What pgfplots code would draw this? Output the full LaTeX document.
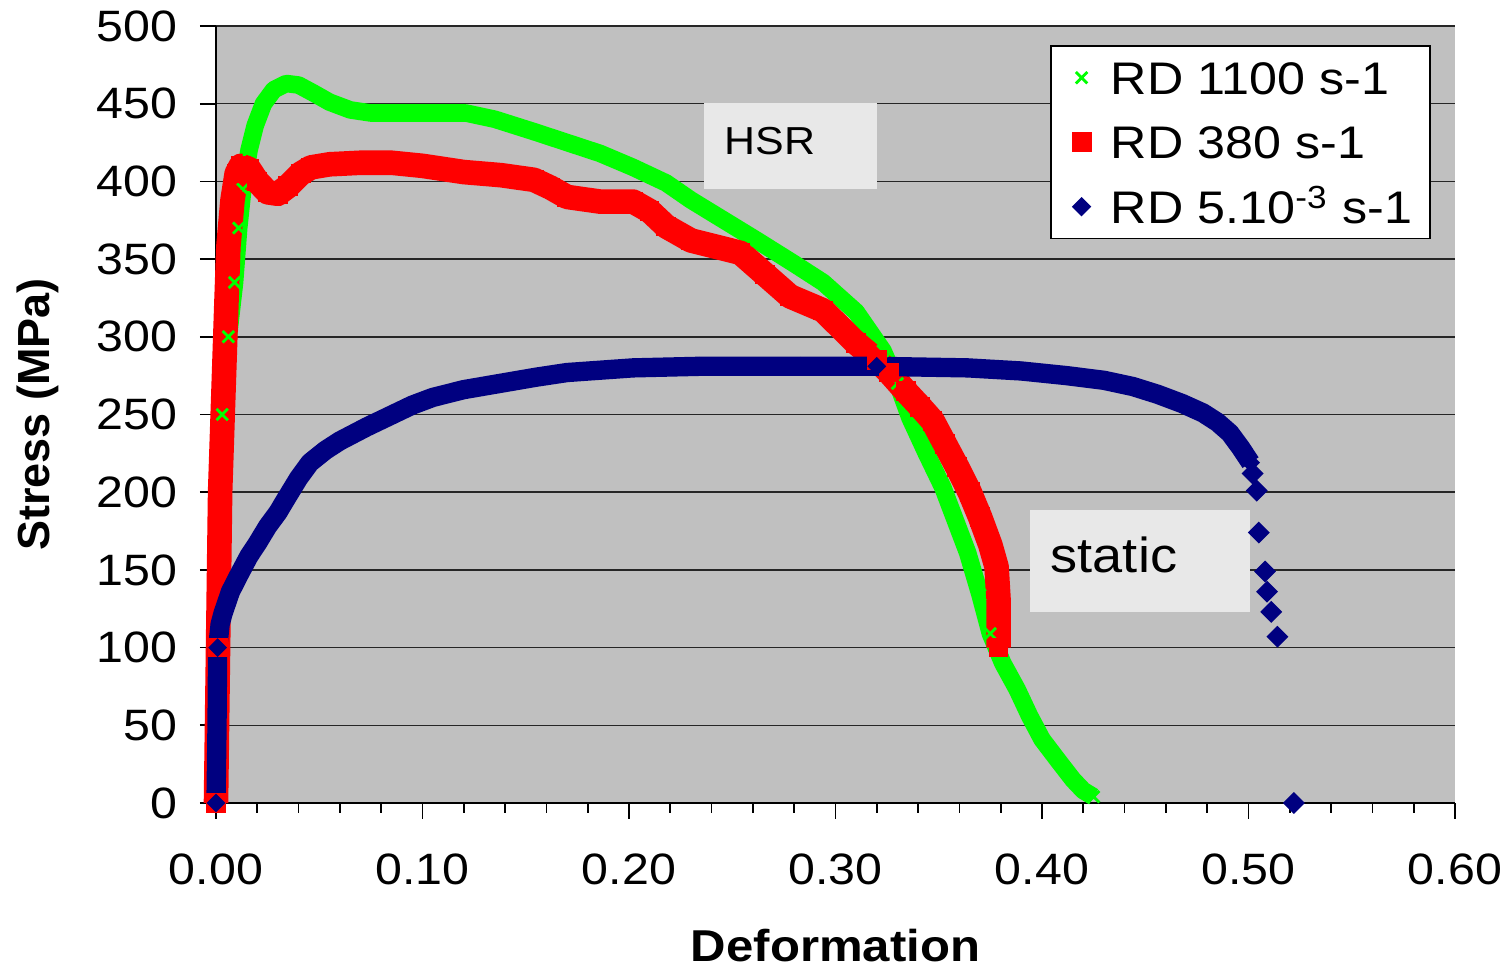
\documentclass[border=0pt]{standalone}
\usepackage{pgfplots}
\pgfplotsset{compat=1.18}
\usepackage{pgfplotstable}
\usepackage{fontspec}
\setmainfont{Liberation Sans}[FakeStretch=1.1]
\newfontfamily\ylabfont{Liberation Sans}
\definecolor{bggray}{HTML}{C0C0C0}
\definecolor{boxgray}{HTML}{E8E8E8}
\definecolor{hsrgreen}{HTML}{00FF00}
\definecolor{hsrred}{HTML}{FF0000}
\definecolor{stnavy}{HTML}{000080}

\pgfplotstableread{
x y
0.000 0
0.0005 100
0.001 200
0.003 250
0.006 300
0.009 335
0.011 370
0.013 395
0.016 420
0.019 436
0.023 450
0.028 459
0.034 463
0.040 462
0.047 457
0.055 451
0.065 446
0.075 444
0.090 444
0.105 444
0.121 444
0.135 440
0.154 432
0.170 425
0.186 418
0.202 409
0.218 399
0.230 388
0.246 375
0.262 362
0.280 347
0.294 335
0.310 316
0.323 291
0.330 270
0.336 248
0.344 225
0.352 203
0.358 182
0.364 161
0.370 134
0.375 109
0.381 90
0.388 73
0.394 56
0.400 41
0.408 27
0.415 15
0.420 8
0.425 4
}\greendata

\pgfplotstableread{
x y
0.000 0
0.001 100
0.002 200
0.004 280
0.005 320
0.006 358
0.008 388
0.010 405
0.012 410
0.016 408
0.020 400
0.025 393
0.030 392
0.035 397
0.041 405
0.046 409
0.055 411
0.070 412
0.085 412
0.100 410
0.105 409
0.120 406
0.138 404
0.154 401
0.162 396
0.170 390
0.186 387
0.202 387
0.210 381
0.218 371
0.230 362
0.242 358
0.254 354
0.266 340
0.278 326
0.294 317
0.310 296
0.320 285
0.326 277
0.334 265
0.341 255
0.347 246
0.353 231
0.359 216
0.365 200
0.370 184
0.375 166
0.378 152
0.379 130
0.379 100
}\reddata

\pgfplotstableread{
x y
0.0000 0
0.0005 50
0.0008 100
0.0020 115
0.0034 122
0.0070 136
0.0116 148
0.0160 159
0.0200 167
0.0250 178
0.0300 187
0.0345 197
0.0400 209
0.0455 219
0.0530 227
0.0600 233
0.0730 242
0.0840 249
0.0950 256
0.1050 261
0.1200 266
0.1375 270
0.1550 274
0.1700 277
0.2020 280
0.2340 281
0.2830 281
0.3200 281
0.3640 280
0.3900 278
0.4120 275
0.4300 272
0.4440 268
0.4560 263
0.4680 257
0.4780 251
0.4850 245
0.4910 238
0.4960 229
0.5010 219
}\bluedata

\pgfplotstableread{
x y
0.502 212
0.504 201
0.505 174
0.508 149
0.509 136
0.511 123
0.514 107
0.522 0
}\bluetail

\begin{document}
\begin{tikzpicture}
\path[use as bounding box] (-21.6mm,-16.7mm) rectangle (129.4mm,80.3mm);
\begin{axis}[
  scale only axis, width=123.9mm, height=77.7mm,
  xmin=0, xmax=0.6, ymin=0, ymax=500,
  clip=false,
  axis lines=left,
  axis line style={-, black, line width=0.7pt},
  axis background/.style={fill=bggray},
  xtick={0,0.1,0.2,0.3,0.4,0.5,0.6},
  minor x tick num=4,
  ytick={0,50,100,150,200,250,300,350,400,450,500},
  tick align=outside,
  major tick length=1.6mm, minor tick length=1.0mm,
  tick style={black, line width=0.5pt},
  ymajorgrids,
  grid style={black!85, line width=0.45pt},
  /pgf/number format/assume math mode=true,
  tick label style={font=\fontsize{12.5}{15}\selectfont},
  x tick label style={/pgf/number format/fixed, /pgf/number format/fixed zerofill, /pgf/number format/precision=2, yshift=-2.2mm},
  y tick label style={xshift=-1mm},
  xlabel={Deformation},
  xlabel style={at={(axis description cs:0.5,-0.184)}, anchor=center, font=\fontsize{12.7}{15}\selectfont\bfseries},
  ylabel={Stress (MPa)},
  ylabel style={at={(axis description cs:-0.1437,0.5)}, anchor=center, font=\ylabfont\fontsize{12.8}{15}\selectfont\bfseries},
  legend cell align=left,
  legend image code/.code={%
    \path (0pt,0pt) (11.6pt,0pt);
    \draw[#1] plot coordinates {(3.5pt,0pt)};},
  legend style={at={(0.6731,0.9755)}, anchor=north west, draw=black, line width=0.5pt, fill=white,
    font=\fontsize{13}{15}\selectfont, inner xsep=5pt, inner ysep=4.3pt, row sep=8.85pt,
    nodes={inner sep=0pt, text height=9.5pt, text depth=0pt}},
]
% green
\addplot[hsrgreen, line width=5pt, line join=round, no marks, forget plot] table {\greendata};
\addplot[only marks, mark=x, mark size=2.3pt, mark options={hsrgreen, line width=0.8pt}] table {\greendata};
% red
\addplot[hsrred, line width=7pt, line join=round, no marks, forget plot] table {\reddata};
\addplot[only marks, mark=square*, mark size=2.6pt, mark options={draw=hsrred, fill=hsrred}] table {\reddata};
% blue
\addplot[stnavy, line width=5.5pt, line join=round, no marks, forget plot] table {\bluedata};
\addplot[only marks, mark=square*, mark size=1.7pt, mark options={draw=stnavy, fill=stnavy, rotate=45}] table {\bluedata};
\addplot[only marks, mark=square*, mark size=2.0pt, mark options={draw=stnavy, fill=stnavy, rotate=45}, forget plot] table {\bluetail};
\legend{RD 1100 s-1, RD 380 s-1, RD 5.10\textsuperscript{-3} s-1}
% annotation boxes
\fill[boxgray] (axis cs:0.2363,395.1) rectangle (axis cs:0.3201,450.5);
\node[anchor=base west, inner sep=0pt, font=\fontsize{11.1}{13}\selectfont] at (axis cs:0.246,417.6) {HSR};
\fill[boxgray] (axis cs:0.3942,122.9) rectangle (axis cs:0.5007,188.5);
\node[anchor=base west, inner sep=0pt, font=\fontsize{14}{16}\selectfont] at (axis cs:0.4039,148.6) {static};
\end{axis}
\end{tikzpicture}
\end{document}
